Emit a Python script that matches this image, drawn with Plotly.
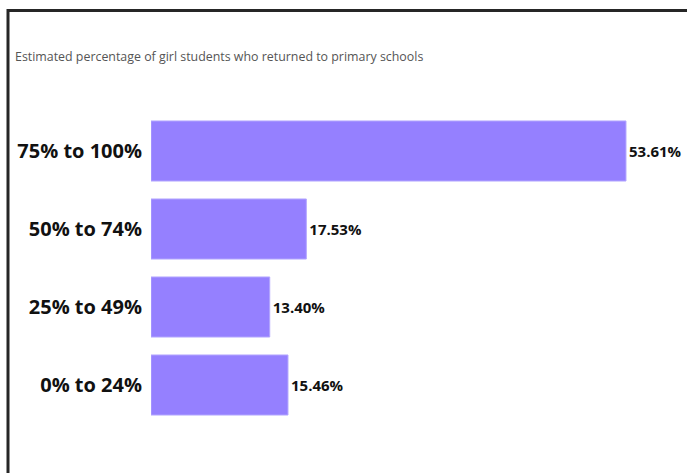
import plotly.graph_objects as go

# Share of schools by estimated percentage of girl students who returned
categories = ["75% to 100%", "50% to 74%", "25% to 49%", "0% to 24%"]
values = [53.61, 17.53, 13.40, 15.46]
value_labels = ["53.61%", "17.53%", "13.40%", "15.46%"]

title_text = "Estimated percentage of girl students who returned to primary schools"

W, H = 687, 473
ML, MR, MT, MB = 151, 4, 112, 49
PW, PH = W - ML - MR, H - MT - MB


def px_to_paper_x(px):
    return (px - ML) / PW


def px_to_paper_y(py):
    return (H - MB - py) / PH


fig = go.Figure(
    go.Bar(
        x=values,
        y=categories,
        orientation="h",
        marker=dict(color="#9580FF", line=dict(color="#B3A6FF", width=1)),
        width=0.77,
        text=value_labels,
        textposition="outside",
        textfont=dict(family="Open Sans", size=15, color="#111111", weight="bold"),
        constraintext="none",
        cliponaxis=False,
        hoverinfo="skip",
    )
)

# Frame lines along the top and left of the card
x_left = px_to_paper_x(8)
x_right = px_to_paper_x(W + 2)
y_top = px_to_paper_y(10.5)
y_bottom = px_to_paper_y(H + 2)
fig.add_shape(
    type="path",
    xref="paper",
    yref="paper",
    path=f"M {x_left} {y_bottom} L {x_left} {y_top} L {x_right} {y_top}",
    line=dict(color="#262626", width=3),
)

fig.add_annotation(
    text=title_text,
    xref="paper",
    yref="paper",
    x=px_to_paper_x(13),
    y=px_to_paper_y(57),
    xanchor="left",
    yanchor="middle",
    showarrow=False,
    font=dict(family="Open Sans", size=12.4, color="#555555"),
)

fig.update_layout(
    width=W,
    height=H,
    margin=dict(l=ML, r=MR, t=MT, b=MB, pad=0),
    paper_bgcolor="white",
    plot_bgcolor="white",
    showlegend=False,
    xaxis=dict(
        range=[0, PW / 8.86],
        visible=False,
        fixedrange=True,
    ),
    yaxis=dict(
        categoryorder="array",
        categoryarray=categories[::-1],
        range=[-0.5, 3.5],
        showgrid=False,
        showline=False,
        zeroline=False,
        ticks="",
        ticklabelstandoff=8,
        tickfont=dict(family="Open Sans", size=20, color="#111111", weight="bold"),
        fixedrange=True,
    ),
)

fig.write_html("out.html")
